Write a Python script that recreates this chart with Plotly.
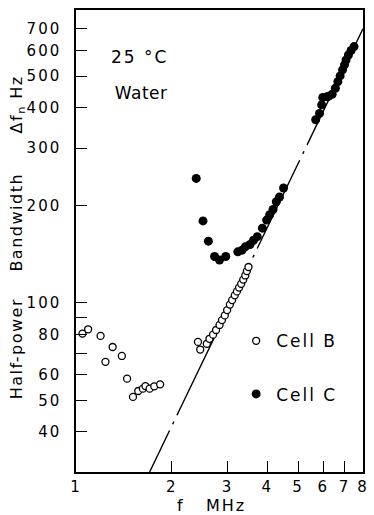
import plotly.graph_objects as go
import math

# ---- data ----
f_cellB = [1.048, 1.092, 1.195, 1.238, 1.304, 1.394, 1.448, 1.511, 1.570, 1.623, 1.654, 1.705, 1.763, 1.840,
           2.42, 2.46, 2.58, 2.63, 2.70, 2.76, 2.83, 2.88, 2.94, 2.99, 3.05, 3.10, 3.16, 3.21, 3.26, 3.31,
           3.36, 3.41, 3.45, 3.49]
bw_cellB = [80.4, 82.9, 79.1, 65.8, 73.1, 68.6, 58.4, 51.3, 53.5, 54.4, 55.4, 54.4, 55.3, 56.1,
            75.8, 71.8, 74.8, 77.5, 79.8, 82.5, 85.5, 88.5, 91.5, 95.0, 98.8, 102.0, 105.5, 108.5, 111.5, 114.5,
            118.0, 121.5, 125.3, 129.0]

f_cellC = [2.39, 2.51, 2.61, 2.73, 2.83, 2.96,
           3.23, 3.33, 3.41, 3.53, 3.62, 3.72, 3.86, 3.98, 4.07, 4.17, 4.27, 4.37, 4.50,
           5.68, 5.84, 5.93, 5.98, 6.17, 6.24, 6.40, 6.55, 6.67, 6.78, 6.90, 7.00, 7.08, 7.20, 7.34, 7.50]
bw_cellC = [242, 179, 155, 139, 135.5, 139,
            143.7, 145.4, 148.9, 151.4, 156, 160, 170, 180, 187, 194, 205, 212, 226,
            367, 384, 408, 430, 432, 434, 440, 459, 481, 501, 523, 542, 561, 581, 600, 617]

f_line = [1.705, 8.0]
bw_line = [30.1, 700]

x_tickvals = [1, 2, 3, 4, 5, 6, 7, 8]
x_ticktext = ["1", "2", "3", "4", "5", "6", "7", "8"]
y_tickvals = [40, 50, 60, 80, 100, 200, 300, 400, 500, 600, 700]
y_ticktext = ["40", "50", "60", "80", "100", "200", "300", "400", "500", "600", "700"]
y_minor_tickvals = [70, 90]

FONT = "DejaVu Sans"
NB = "\u00a0"

fig = go.Figure()

fig.add_trace(go.Scatter(
    x=f_line, y=bw_line, mode="lines", showlegend=False, hoverinfo="skip",
    line=dict(color="black", width=1.4,
              dash="46px,7px,3px,7px,168px,7px,3px,7px,98px,7px,3px,7px,400px"),
))

fig.add_trace(go.Scatter(
    x=f_cellB, y=bw_cellB, mode="markers", name="Cell B", legendgroup="B",
    marker=dict(symbol="circle", size=7, color="white", line=dict(color="black", width=1.3)),
))
fig.add_trace(go.Scatter(
    x=f_cellC, y=bw_cellC, mode="markers", name="Cell C", legendgroup="C",
    marker=dict(symbol="circle", size=9, color="black", line=dict(color="black", width=0)),
))

fig.update_layout(
    width=374, height=515,
    margin=dict(l=76, r=6, t=10, b=43),
    paper_bgcolor="white", plot_bgcolor="white",
    font=dict(family=FONT, color="black", size=14),
    legend=dict(x=0.558, y=0.322, xanchor="left", yanchor="top",
                font=dict(size=17, family=FONT), bgcolor="rgba(0,0,0,0)",
                traceorder="grouped", tracegroupgap=28, itemsizing="trace"),
    xaxis=dict(type="log", range=[0, math.log10(8.003)],
               tickvals=x_tickvals, ticktext=x_ticktext,
               ticks="inside", ticklen=11, tickwidth=1.4, tickcolor="black",
               showgrid=False, zeroline=False, showline=True, linecolor="black",
               linewidth=1.5, mirror=True, ticklabelstandoff=0,
               tickfont=dict(size=15, family=FONT)),
    yaxis=dict(type="log", range=[math.log10(30.1), math.log10(800)],
               tickvals=y_tickvals, ticktext=y_ticktext,
               minor=dict(tickvals=y_minor_tickvals, ticks="inside", ticklen=11,
                          tickwidth=1.4, tickcolor="black", showgrid=False),
               ticks="inside", ticklen=11, tickwidth=1.4, tickcolor="black",
               showgrid=False, zeroline=False, showline=True, linecolor="black",
               linewidth=1.5, mirror=True, ticklabelstandoff=10,
               tickfont=dict(size=15, family=FONT)),
    annotations=[
        dict(text="25 °C", xref="paper", yref="paper", x=0.132, y=0.898,
             xanchor="left", yanchor="middle", showarrow=False, font=dict(size=17, family=FONT)),
        dict(text="Water", xref="paper", yref="paper", x=0.133, y=0.820,
             xanchor="left", yanchor="middle", showarrow=False, font=dict(size=17, family=FONT)),
        dict(text="f" + NB * 3 + "MHz", xref="paper", yref="paper", x=0.471, y=-0.072,
             xanchor="center", yanchor="middle", showarrow=False, font=dict(size=16, family=FONT)),
        dict(text="Half-power" + NB * 4 + "Bandwidth" + NB * 6 + "Δf<sub>n</sub>" + NB + "Hz",
             xref="paper", yref="paper", x=0, xshift=-58, y=0.5087, textangle=-90,
             xanchor="center", yanchor="middle", showarrow=False, font=dict(size=16, family=FONT)),
    ],
)

post = """
(function(){
  var gd = document.getElementById('{plot_id}');
  function ls(){
    gd.querySelectorAll('.xtick text, .ytick text').forEach(function(t){ t.style.letterSpacing='2px'; });
    gd.querySelectorAll('.legendtext').forEach(function(t){ t.style.letterSpacing='2px'; });
    gd.querySelectorAll('.legend [clip-path]').forEach(function(e){ e.removeAttribute('clip-path'); });
    gd.querySelectorAll('.annotation-text').forEach(function(t){
      var s = t.textContent;
      if (s.indexOf('Water') === 0) { t.style.letterSpacing='0.5px'; }
      else if (s.indexOf('Half') === 0) { t.style.letterSpacing='1.5px'; }
      else { t.style.letterSpacing='2px'; }
    });
  }
  if (gd && gd.on) { gd.on('plotly_afterplot', ls); }
  ls(); setTimeout(ls, 50);
})();
"""

fig.write_html("out.html", post_script=post)
